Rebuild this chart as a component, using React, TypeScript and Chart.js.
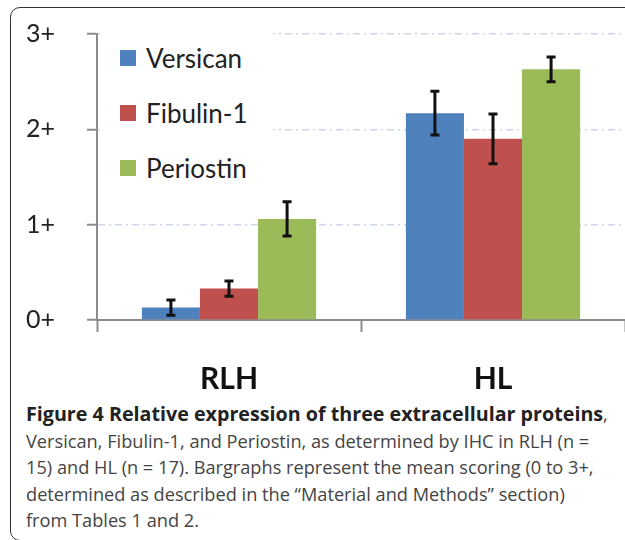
import React, { useEffect, useRef } from "react";
import { Chart, registerables } from "chart.js";

Chart.register(...registerables);

const categories = ["RLH", "HL"];
const seriesNames = ["Versican", "Fibulin-1", "Periostin"];
const seriesColors = ["#4f81bd", "#c0504d", "#9bbb59"];
const versican = [0.13, 2.17];
const fibulin1 = [0.33, 1.9];
const periostin = [1.06, 2.63];
const versicanErr = [0.08, 0.23];
const fibulin1Err = [0.08, 0.26];
const periostinErr = [0.18, 0.13];
const yTickLabels = ["0+", "1+", "2+", "3+"];

const seriesValues = [versican, fibulin1, periostin];
const seriesErrors = [versicanErr, fibulin1Err, periostinErr];

const captionBold = "Figure 4 Relative expression of three extracellular proteins";
const captionLines = [
  "Versican, Fibulin-1, and Periostin, as determined by IHC in RLH (n =",
  "15) and HL (n = 17). Bargraphs represent the mean scoring (0 to 3+,",
  "determined as described in the \u201cMaterial and Methods\u201d section)",
  "from Tables 1 and 2.",
];

const errorBarPlugin = {
  id: "errorBars",
  afterDatasetsDraw(chart: any) {
    const { ctx } = chart;
    const y = chart.scales.y;
    chart.data.datasets.forEach((ds: any, i: number) => {
      const meta = chart.getDatasetMeta(i);
      meta.data.forEach((bar: any, j: number) => {
        const v = ds.data[j];
        const e = ds.errors[j];
        const top = y.getPixelForValue(v + e);
        const bot = y.getPixelForValue(v - e);
        ctx.save();
        ctx.strokeStyle = "#111";
        ctx.lineWidth = 3;
        ctx.beginPath();
        ctx.moveTo(bar.x, top);
        ctx.lineTo(bar.x, bot);
        ctx.moveTo(bar.x - 4.5, top);
        ctx.lineTo(bar.x + 4.5, top);
        ctx.moveTo(bar.x - 4.5, bot);
        ctx.lineTo(bar.x + 4.5, bot);
        ctx.stroke();
        ctx.restore();
      });
    });
  },
};

export default function App() {
  const ref = useRef<HTMLCanvasElement>(null);

  useEffect(() => {
    if (!ref.current) return;
    const chart = new Chart(ref.current, {
      type: "bar",
      data: {
        labels: categories,
        datasets: seriesNames.map((name, i) => ({
          label: name,
          data: seriesValues[i],
          errors: seriesErrors[i],
          backgroundColor: seriesColors[i],
          borderWidth: 0,
          barPercentage: 1.0,
          categoryPercentage: 0.66,
        })) as any,
      },
      options: {
        animation: false,
        responsive: false,
        devicePixelRatio: 1,
        layout: { padding: { top: 34, left: 26, right: 0, bottom: 0 } },
        plugins: { legend: { display: false }, tooltip: { enabled: false } },
        scales: {
          x: {
            afterFit: (s: any) => {
              s.height = 80;
            },
            grid: {
              offset: true,
              drawOnChartArea: false,
              tickLength: 12,
              tickColor: "#8c8c8c",
              tickWidth: 2,
            },
            border: { color: "#8c8c8c", width: 2 },
            ticks: {
              color: "#111",
              padding: 29,
              font: { family: "Lato", size: 30, weight: "bold" },
            },
          },
          y: {
            min: 0,
            max: 3,
            afterFit: (s: any) => {
              s.width = 71;
            },
            grid: {
              color: (c: any) => (c.tick && c.tick.value === 0 ? "rgba(0,0,0,0)" : "#ccd6f0"),
              lineWidth: 1.5,
              tickLength: 10,
              tickColor: "#8c8c8c",
              tickWidth: 2,
            },
            border: { color: "#8c8c8c", width: 2, dash: [7, 4, 2, 4] },
            ticks: {
              stepSize: 1,
              padding: 0,
              crossAlign: "far",
              color: "#222",
              font: { family: "Lato", size: 25 },
              callback: (v: any) => yTickLabels[v as number],
            },
          },
        },
      },
      plugins: [errorBarPlugin],
    });
    return () => chart.destroy();
  }, []);

  return (
    <div
      style={{
        position: "fixed",
        left: 0,
        top: 0,
        width: 625,
        height: 540,
        overflow: "hidden",
        background: "#fff",
      }}
    >
      <div
        style={{
          position: "absolute",
          left: 10,
          top: 7,
          width: 660,
          height: 534,
          border: "1.5px solid #333",
          borderRadius: 10,
          boxSizing: "border-box",
        }}
      />
      <canvas
        ref={ref}
        width={625}
        height={400}
        style={{ position: "absolute", left: 0, top: 0, width: 625, height: 400 }}
      />
      <div
        style={{
          position: "absolute",
          left: 100,
          top: 28,
          width: 173,
          height: 165,
          background: "#fff",
        }}
      >
        {seriesNames.map((name, i) => (
          <div
            key={name}
            style={{
              position: "absolute",
              left: 20,
              top: 30 + i * 55 - 15,
              height: 30,
              display: "flex",
              alignItems: "center",
              fontFamily: "Lato",
              fontSize: 26,
              color: "#222",
              whiteSpace: "nowrap",
            }}
          >
            <span
              style={{
                display: "inline-block",
                width: 16,
                height: 16,
                background: seriesColors[i],
                marginRight: 10,
              }}
            />
            {name}
          </div>
        ))}
      </div>
      <div
        style={{
          position: "absolute",
          left: 26,
          top: 401,
          fontFamily: "'Open Sans'",
          fontSize: 18.2,
          lineHeight: "26.5px",
          color: "#444",
          whiteSpace: "nowrap",
        }}
      >
        <div>
          <span style={{ fontWeight: "bold", color: "#222", fontSize: 19.7 }}>{captionBold}</span>,
        </div>
        {captionLines.map((l) => (
          <div key={l}>{l}</div>
        ))}
      </div>
    </div>
  );
}
